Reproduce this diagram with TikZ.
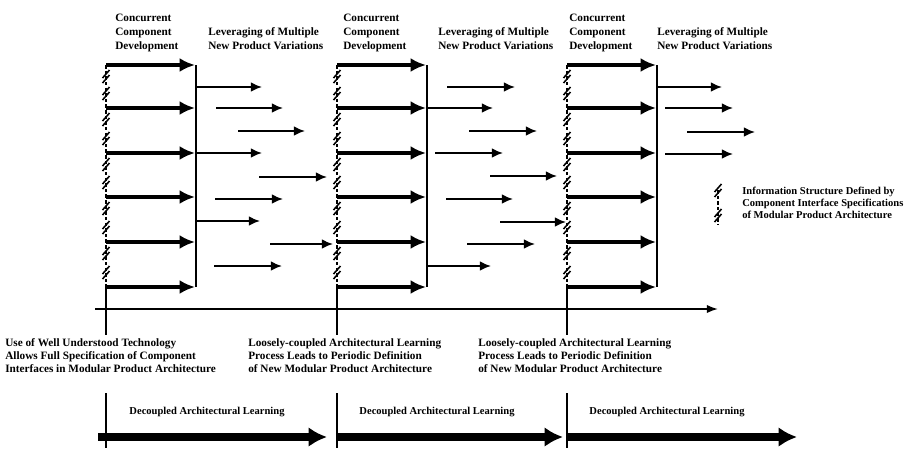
\documentclass[tikz,border=0pt]{standalone}
\usepackage{fontspec}
\setmainfont{Liberation Serif}
\usetikzlibrary{arrows.meta, positioning}

\tikzset{
  lbl/.style={font=\bfseries\fontsize{8}{10}\selectfont, align=left, anchor=north west, inner sep=0pt},
  note/.style={font=\bfseries\fontsize{8}{9.3}\selectfont, align=left, anchor=north west, inner sep=0pt},
  decl/.style={font=\bfseries\fontsize{7.5}{9}\selectfont, inner sep=0pt},
  thk/.style={line width=2.6pt, -{Latex[length=11pt,width=10pt]}},
  lev/.style={line width=1.4pt, -{Latex[length=8pt,width=7pt]}},
  infoline/.style={line width=1pt, dash pattern=on 2.5pt off 1.5pt},
  phase/.style={line width=5.5pt, -{Latex[length=13pt,width=14pt]}},
}
\newcommand{\infoslash}[2]{\draw[line width=1.1pt] (#1-3.5,#2+4) -- (#1+3.5,#2-4) (#1-3.5,#2+9) -- (#1+3.5,#2+1);}

\begin{document}
\begin{tikzpicture}[x=0.025cm, y=-0.025cm, >=latex]
    \useasboundingbox (0,0) rectangle (915,462);

    % the three development blocks
    \foreach \L in {106,337,567} {
        \draw[infoline] (\L,65) -- (\L,287);
        \foreach \y in {65,108,153,197,242} {\infoslash{\L}{\y+9}}
        \foreach \y in {108,153,197,242,287} {\infoslash{\L}{\y-17}}
        \draw[line width=1pt] (\L,287) -- (\L,335);
        \draw[line width=1pt] (\L+90,65) -- (\L+90,287);
        \foreach \y in {65,108,153,197,242,287}
            \draw[thk] (\L,\y) -- (\L+89,\y);
        \draw[line width=1pt] (\L,393) -- (\L,448);
    }

    % leveraging arrows, block 1
    \draw[lev] (196,87) -- (262,87);
    \draw[lev] (216,108) -- (283,108);
    \draw[lev] (238,131) -- (305,131);
    \draw[lev] (196,153) -- (262,153);
    \draw[lev] (259,177) -- (327,177);
    \draw[lev] (215,199) -- (283,199);
    \draw[lev] (196,221) -- (260,221);
    \draw[lev] (270,244) -- (333,244);
    \draw[lev] (214,266) -- (282,266);

    % leveraging arrows, block 2
    \draw[lev] (447,87) -- (515,87);
    \draw[lev] (427,108) -- (493,108);
    \draw[lev] (469,131) -- (537,131);
    \draw[lev] (435,153) -- (503,153);
    \draw[lev] (490,176) -- (557,176);
    \draw[lev] (446,199) -- (513,199);
    \draw[lev] (500,222) -- (566,222);
    \draw[lev] (467,244) -- (535,244);
    \draw[lev] (427,266) -- (491,266);

    % leveraging arrows, block 3
    \draw[lev] (657,87) -- (722,87);
    \draw[lev] (665,108) -- (733,108);
    \draw[lev] (687,132) -- (755,132);
    \draw[lev] (665,154) -- (733,154);

    % time line
    \draw[line width=1.3pt, -{Latex[length=8pt,width=6pt]}] (95,309) -- (718,309);

    % labels on top
    \node[lbl] (cc1) at (115,14) {Concurrent\\Component\\Development};
    \node[lbl] (lev1) at (208,27) {Leveraging of Multiple\\New Product Variations};
    \node[lbl] (cc2) at (343,14) {Concurrent\\Component\\Development};
    \node[lbl] (lev2) at (438,27) {Leveraging of Multiple\\New Product Variations};
    \node[lbl] (cc3) at (569,14) {Concurrent\\Component\\Development};
    \node[lbl] (lev3) at (657,27) {Leveraging of Multiple\\New Product Variations};

    % legend
    \draw[infoline] (718,190) -- (718,224);
    \infoslash{718}{188}
    \infoslash{718}{213}
    \node[note, font=\bfseries\fontsize{7.5}{8.6}\selectfont] (info) at (742,187)
        {Information Structure Defined by\\Component Interface Specifications\\of Modular Product Architecture};

    % texts under the time line
    \node[note] (use) at (5,338) {Use of Well Understood Technology\\Allows Full Specification of Component\\Interfaces in Modular Product Architecture};
    \node[note] (loose1) at (248,338) {Loosely-coupled Architectural Learning\\Process Leads to Periodic Definition\\of New Modular Product Architecture};
    \node[note] (loose2) at (478,338) {Loosely-coupled Architectural Learning\\Process Leads to Periodic Definition\\of New Modular Product Architecture};

    % decoupled learning phases
    \draw[phase] (98,437) -- (327,437);
    \draw[phase] (337,437) -- (563,437);
    \draw[phase] (567,437) -- (797,437);
    \node[decl] (dec1) at (207,412) {Decoupled Architectural Learning};
    \node[decl] (dec2) at (437,412) {Decoupled Architectural Learning};
    \node[decl] (dec3) at (667,412) {Decoupled Architectural Learning};
\end{tikzpicture}
\end{document}
